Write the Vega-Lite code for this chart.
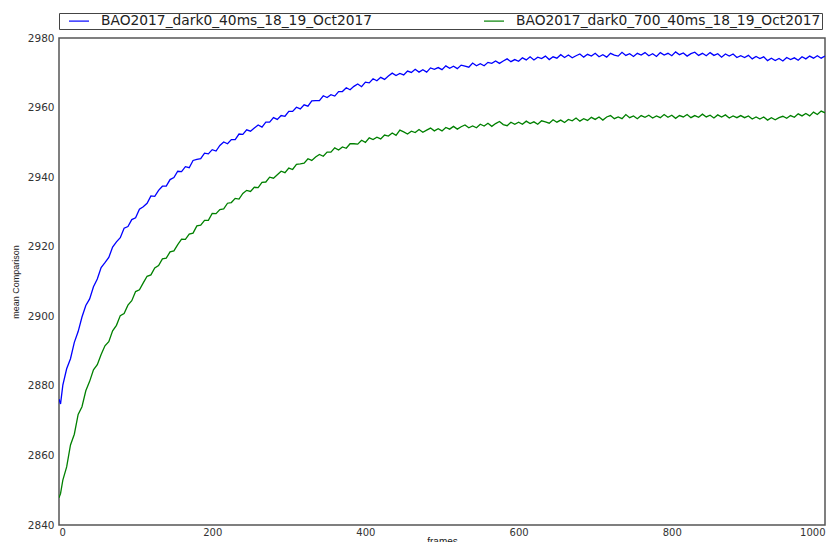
{
"$schema": "https://vega.github.io/schema/vega-lite/v6.json",
"width": 766, "height": 487,
"autosize": {"type": "none"},
"padding": {"left": 59, "top": 38, "right": 13, "bottom": 17},
"background": "white",
"config": {"view": {"stroke": "#555", "strokeWidth": 1.5}, "font": "DejaVu Sans"},
"data": {"values": [
{"f":0,"a":2876.2,"b":2847.8},{"f":2,"a":2874.8,"b":2849.0},{"f":5,"a":2880.2,"b":2852.9},{"f":10,"a":2884.9,"b":2856.7},{"f":15,"a":2887.8,"b":2863.0},{"f":20,"a":2892.5,"b":2866.1},{"f":25,"a":2895.6,"b":2871.8},{"f":30,"a":2899.8,"b":2874.0},{"f":35,"a":2903.1,"b":2878.6},{"f":40,"a":2905.0,"b":2881.3},{"f":45,"a":2908.5,"b":2884.6},
{"f":50,"a":2910.7,"b":2886.1},{"f":55,"a":2914.0,"b":2889.0},{"f":60,"a":2915.4,"b":2891.5},{"f":65,"a":2916.9,"b":2892.7},{"f":70,"a":2919.9,"b":2895.8},{"f":75,"a":2921.4,"b":2897.4},{"f":80,"a":2922.6,"b":2900.2},{"f":85,"a":2925.3,"b":2900.8},{"f":90,"a":2925.8,"b":2903.2},{"f":95,"a":2927.8,"b":2904.5},
{"f":100,"a":2928.3,"b":2907.1},{"f":105,"a":2930.8,"b":2907.6},{"f":110,"a":2931.5,"b":2909.6},{"f":115,"a":2932.5,"b":2911.5},{"f":120,"a":2934.6,"b":2911.9},{"f":125,"a":2934.5,"b":2913.9},{"f":130,"a":2936.2,"b":2914.6},{"f":135,"a":2937.4,"b":2916.5},{"f":140,"a":2937.4,"b":2916.7},{"f":145,"a":2939.3,"b":2918.5},
{"f":150,"a":2939.9,"b":2918.8},{"f":155,"a":2941.7,"b":2920.6},{"f":160,"a":2941.6,"b":2922.2},{"f":165,"a":2943.0,"b":2922.1},{"f":170,"a":2942.7,"b":2923.6},{"f":175,"a":2944.8,"b":2923.9},{"f":180,"a":2945.1,"b":2926.0},{"f":185,"a":2945.3,"b":2926.2},{"f":190,"a":2946.9,"b":2927.6},{"f":195,"a":2946.7,"b":2927.6},
{"f":200,"a":2947.9,"b":2929.6},{"f":205,"a":2947.5,"b":2929.5},{"f":210,"a":2949.1,"b":2930.7},{"f":215,"a":2950.1,"b":2930.9},{"f":220,"a":2949.6,"b":2932.5},{"f":225,"a":2950.8,"b":2932.7},{"f":230,"a":2950.8,"b":2933.9},{"f":235,"a":2952.4,"b":2933.7},{"f":240,"a":2952.3,"b":2935.3},{"f":245,"a":2953.6,"b":2936.2},
{"f":250,"a":2953.2,"b":2935.9},{"f":255,"a":2954.1,"b":2937.1},{"f":260,"a":2955.0,"b":2937.0},{"f":265,"a":2954.4,"b":2938.5},{"f":270,"a":2955.8,"b":2938.6},{"f":275,"a":2955.8,"b":2940.0},{"f":280,"a":2957.1,"b":2939.7},{"f":285,"a":2956.6,"b":2940.7},{"f":290,"a":2957.7,"b":2941.7},{"f":295,"a":2957.5,"b":2941.3},
{"f":300,"a":2958.9,"b":2942.6},{"f":305,"a":2958.9,"b":2942.2},{"f":310,"a":2960.1,"b":2943.7},{"f":315,"a":2959.6,"b":2943.8},{"f":320,"a":2960.8,"b":2944.0},{"f":325,"a":2960.4,"b":2945.3},{"f":330,"a":2961.9,"b":2944.8},{"f":335,"a":2962.0,"b":2945.8},{"f":340,"a":2962.0,"b":2946.5},{"f":345,"a":2963.4,"b":2946.0},
{"f":350,"a":2962.9,"b":2947.2},{"f":355,"a":2963.7,"b":2947.2},{"f":360,"a":2963.3,"b":2948.4},{"f":365,"a":2964.6,"b":2947.8},{"f":370,"a":2964.6,"b":2948.7},{"f":375,"a":2965.7,"b":2948.3},{"f":380,"a":2965.1,"b":2949.6},{"f":385,"a":2966.1,"b":2949.6},{"f":390,"a":2966.8,"b":2949.5},{"f":395,"a":2966.0,"b":2950.6},
{"f":400,"a":2967.3,"b":2950.0},{"f":405,"a":2967.1,"b":2951.3},{"f":410,"a":2968.3,"b":2950.8},{"f":415,"a":2967.7,"b":2951.5},{"f":420,"a":2968.7,"b":2951.0},{"f":425,"a":2968.1,"b":2952.1},{"f":430,"a":2969.1,"b":2951.8},{"f":435,"a":2969.9,"b":2952.7},{"f":440,"a":2969.2,"b":2952.0},{"f":445,"a":2969.8,"b":2953.5},
{"f":450,"a":2969.4,"b":2953.0},{"f":455,"a":2970.5,"b":2952.4},{"f":460,"a":2970.1,"b":2953.2},{"f":465,"a":2971.0,"b":2952.8},{"f":470,"a":2970.2,"b":2953.7},{"f":475,"a":2970.9,"b":2952.9},{"f":480,"a":2970.2,"b":2953.5},{"f":485,"a":2971.4,"b":2954.1},{"f":490,"a":2971.0,"b":2953.3},{"f":495,"a":2971.5,"b":2953.9},
{"f":500,"a":2970.9,"b":2953.3},{"f":505,"a":2972.0,"b":2954.3},{"f":510,"a":2971.3,"b":2953.8},{"f":515,"a":2971.9,"b":2954.6},{"f":520,"a":2971.2,"b":2953.8},{"f":525,"a":2972.2,"b":2954.5},{"f":530,"a":2971.9,"b":2955.0},{"f":535,"a":2971.6,"b":2954.2},{"f":540,"a":2972.8,"b":2954.7},{"f":545,"a":2972.0,"b":2954.2},
{"f":550,"a":2972.6,"b":2955.2},{"f":555,"a":2972.0,"b":2954.7},{"f":560,"a":2973.0,"b":2955.5},{"f":565,"a":2972.7,"b":2954.6},{"f":570,"a":2973.4,"b":2955.4},{"f":575,"a":2972.7,"b":2956.0},{"f":580,"a":2973.4,"b":2955.1},{"f":585,"a":2974.0,"b":2954.8},{"f":590,"a":2973.2,"b":2955.8},{"f":595,"a":2973.8,"b":2955.2},
{"f":600,"a":2973.3,"b":2955.8},{"f":605,"a":2974.3,"b":2955.2},{"f":610,"a":2973.7,"b":2956.1},{"f":615,"a":2974.6,"b":2955.4},{"f":620,"a":2973.7,"b":2955.9},{"f":625,"a":2974.5,"b":2955.2},{"f":630,"a":2974.1,"b":2956.2},{"f":635,"a":2974.8,"b":2955.9},{"f":640,"a":2973.8,"b":2955.5},{"f":645,"a":2974.6,"b":2956.5},
{"f":650,"a":2974.2,"b":2955.8},{"f":655,"a":2975.2,"b":2956.4},{"f":660,"a":2974.4,"b":2955.7},{"f":665,"a":2975.1,"b":2956.6},{"f":670,"a":2974.3,"b":2956.2},{"f":675,"a":2974.9,"b":2957.0},{"f":680,"a":2975.4,"b":2956.1},{"f":685,"a":2974.5,"b":2956.8},{"f":690,"a":2975.3,"b":2956.3},{"f":695,"a":2974.8,"b":2957.2},
{"f":700,"a":2975.6,"b":2956.6},{"f":705,"a":2974.6,"b":2957.3},{"f":710,"a":2975.2,"b":2956.4},{"f":715,"a":2974.5,"b":2957.3},{"f":720,"a":2975.6,"b":2957.7},{"f":725,"a":2975.1,"b":2956.8},{"f":730,"a":2974.8,"b":2957.3},{"f":735,"a":2975.9,"b":2956.8},{"f":740,"a":2975.0,"b":2958.0},{"f":745,"a":2975.5,"b":2957.1},
{"f":750,"a":2974.7,"b":2957.6},{"f":755,"a":2975.6,"b":2956.8},{"f":760,"a":2975.1,"b":2957.7},{"f":765,"a":2975.8,"b":2957.2},{"f":770,"a":2974.9,"b":2957.8},{"f":775,"a":2975.5,"b":2957.0},{"f":780,"a":2974.7,"b":2957.6},{"f":785,"a":2975.8,"b":2957.1},{"f":790,"a":2975.1,"b":2958.0},{"f":795,"a":2975.6,"b":2957.2},
{"f":800,"a":2974.9,"b":2957.8},{"f":805,"a":2976.0,"b":2956.9},{"f":810,"a":2975.2,"b":2957.7},{"f":815,"a":2975.7,"b":2957.3},{"f":820,"a":2974.8,"b":2958.0},{"f":825,"a":2975.5,"b":2957.1},{"f":830,"a":2975.9,"b":2957.7},{"f":835,"a":2975.0,"b":2957.2},{"f":840,"a":2975.6,"b":2958.1},{"f":845,"a":2974.9,"b":2957.3},
{"f":850,"a":2975.8,"b":2957.8},{"f":855,"a":2975.0,"b":2957.0},{"f":860,"a":2975.5,"b":2957.9},{"f":865,"a":2974.5,"b":2957.3},{"f":870,"a":2975.4,"b":2957.9},{"f":875,"a":2974.8,"b":2957.0},{"f":880,"a":2975.4,"b":2957.6},{"f":885,"a":2974.4,"b":2957.1},{"f":890,"a":2974.9,"b":2957.7},{"f":895,"a":2974.4,"b":2957.1},
{"f":900,"a":2975.0,"b":2957.6},{"f":905,"a":2974.0,"b":2956.7},{"f":910,"a":2974.7,"b":2957.3},{"f":915,"a":2974.1,"b":2956.7},{"f":920,"a":2974.6,"b":2957.3},{"f":925,"a":2973.5,"b":2956.4},{"f":930,"a":2974.2,"b":2957.1},{"f":935,"a":2973.5,"b":2956.5},{"f":940,"a":2974.1,"b":2957.1},{"f":945,"a":2973.4,"b":2957.5},
{"f":950,"a":2974.4,"b":2956.9},{"f":955,"a":2973.8,"b":2957.7},{"f":960,"a":2974.3,"b":2957.2},{"f":965,"a":2973.6,"b":2958.2},{"f":970,"a":2974.6,"b":2957.6},{"f":975,"a":2974.0,"b":2958.3},{"f":980,"a":2974.8,"b":2957.6},{"f":985,"a":2974.2,"b":2958.7},{"f":990,"a":2974.9,"b":2958.0},{"f":995,"a":2974.2,"b":2959.0},
{"f":1000,"a":2974.8,"b":2958.5}
]},
"transform": [{"fold": ["a", "b"], "as": ["series", "value"]}],
"mark": {"type": "line", "strokeWidth": 1.3, "clip": true},
"encoding": {
  "x": {"field": "f", "type": "quantitative",
    "scale": {"domain": [0, 1000], "nice": false},
    "axis": {"title": "frames", "format": "d", "values": [0, 200, 400, 600, 800, 1000], "grid": false, "ticks": false, "domain": false,
      "labelFontSize": 10, "labelColor": "#333", "labelPadding": 2,
      "titleFont": "Liberation Sans", "titleFontSize": 10, "titleFontWeight": "normal", "titleColor": "#222", "titlePadding": -1}},
  "y": {"field": "value", "type": "quantitative",
    "scale": {"domain": [2840, 2980], "nice": false, "zero": false},
    "axis": {"title": "mean Comparison", "format": "d", "values": [2840, 2860, 2880, 2900, 2920, 2940, 2960, 2980], "grid": false, "ticks": false, "domain": false,
      "labelFontSize": 10.5, "labelColor": "#333", "labelPadding": 5,
      "titleFont": "Liberation Sans", "titleFontSize": 9, "titleFontWeight": "normal", "titleColor": "#222", "titlePadding": 7}},
  "color": {"field": "series", "type": "nominal",
    "scale": {"domain": ["a", "b"], "range": ["#0000ff", "#008000"]},
    "legend": {"orient": "none", "legendX": 0, "legendY": -25, "direction": "horizontal", "columns": 2, "title": null,
      "strokeColor": "#444", "padding": 1,
      "symbolType": "M0.33,0L3.67,0", "symbolSize": 144, "symbolStrokeWidth": 1.2,
      "labelExpr": "datum.label == 'a' ? 'BAO2017_dark0_40ms_18_19_Oct2017' : 'BAO2017_dark0_700_40ms_18_19_Oct2017'",
      "labelFontSize": 13.8, "labelColor": "#222", "labelOffset": 27, "labelLimit": 500, "columnPadding": 102}}
}
}
